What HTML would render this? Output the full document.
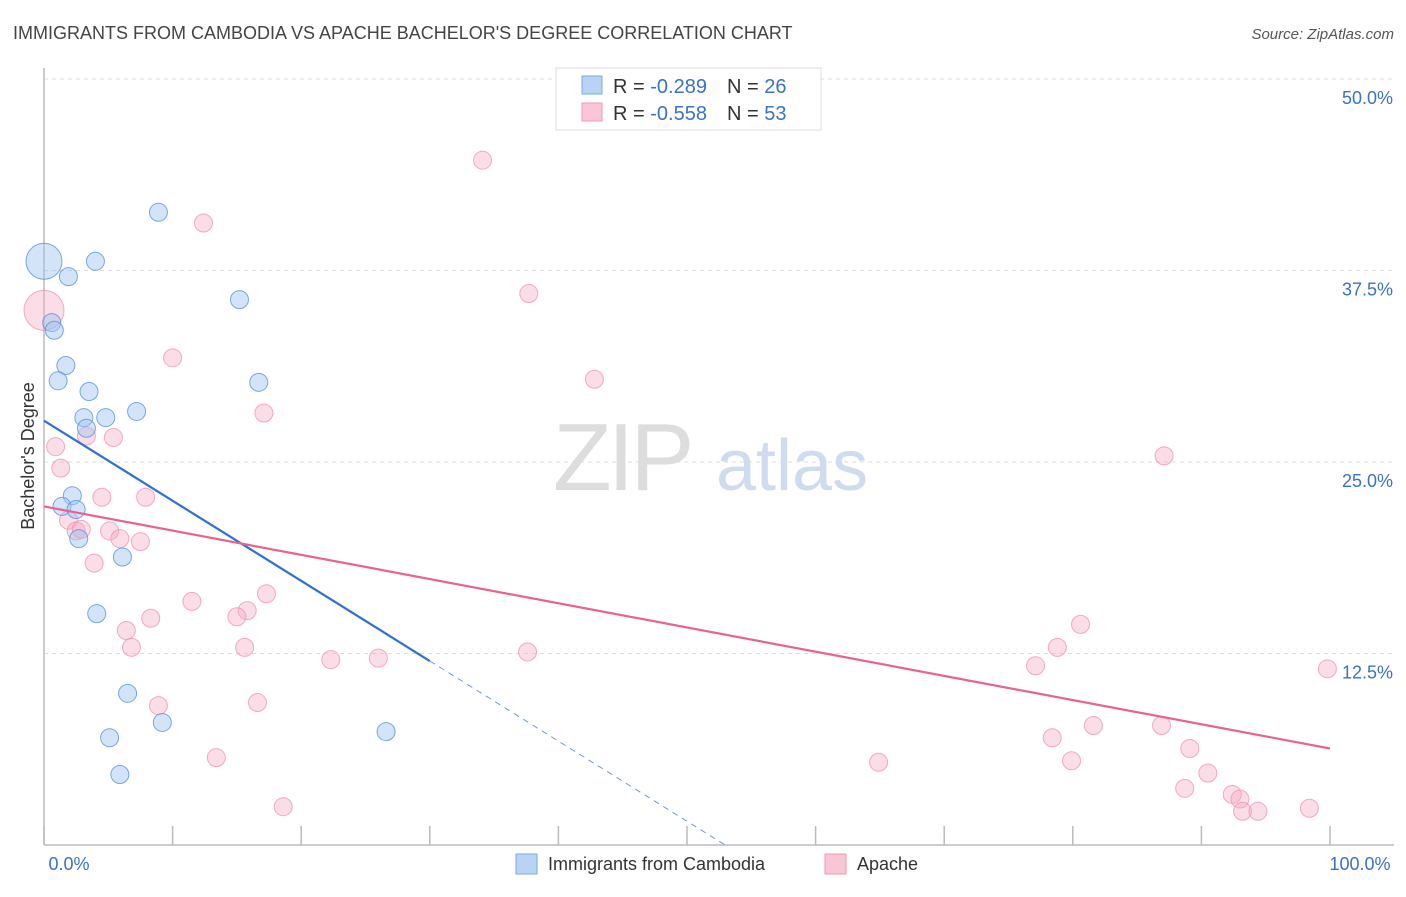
<!DOCTYPE html>
<html><head><meta charset="utf-8"><style>
body{margin:0;background:#fff;font-family:"Liberation Sans",sans-serif;}
svg text{font-family:"Liberation Sans",sans-serif;}
</style></head><body>
<svg width="1406" height="892" viewBox="0 0 1406 892" xmlns="http://www.w3.org/2000/svg">
<text x="13" y="39" font-size="18" fill="#444">IMMIGRANTS FROM CAMBODIA VS APACHE BACHELOR'S DEGREE CORRELATION CHART</text>
<text x="1394" y="39" font-size="15" fill="#555" font-style="italic" text-anchor="end">Source: ZipAtlas.com</text>
<g id="grid"></g>
<g>
<text x="553" y="490" font-size="96" fill="#ddd" font-family="Liberation Serif,serif" letter-spacing="-4">ZIP</text>
<text x="716" y="490" font-size="72" fill="#cfdcf0">atlas</text>
</g>
<line x1="44" y1="68" x2="44" y2="845" stroke="#bbb" stroke-width="1.5"/>
<line x1="44" y1="845" x2="1394" y2="845" stroke="#bbb" stroke-width="1.5"/>
<g id="xticks"></g>
<g id="ylabels"></g>
<text x="69" y="870" font-size="18" fill="#3a72c8" text-anchor="middle">0.0%</text>
<text x="1360" y="870" font-size="18" fill="#3a72c8" text-anchor="middle">100.0%</text>
<text transform="translate(34,456) rotate(-90)" font-size="18" fill="#333" text-anchor="middle">Bachelor's Degree</text>
<g id="pts"></g>
<g id="trends"></g>
<g>
<rect x="556" y="68" width="265" height="62" fill="#fff" stroke="#ddd"/>
<rect x="582" y="76" width="20" height="18" fill="#b9d3f4" stroke="#7ba7e0"/>
<rect x="582" y="103" width="20" height="18" fill="#f9c6d5" stroke="#ee98b3"/>
<text x="613" y="93" font-size="20" fill="#333">R = <tspan fill="#3a72c8">-0.289</tspan><tspan dx="20">N = </tspan><tspan fill="#3a72c8">26</tspan></text>
<text x="613" y="120" font-size="20" fill="#333">R = <tspan fill="#3a72c8">-0.558</tspan><tspan dx="20">N = </tspan><tspan fill="#3a72c8">53</tspan></text>
</g>
<g>
<rect x="516" y="854" width="21" height="20" fill="#b9d3f4" stroke="#7ba7e0"/>
<text x="548" y="870" font-size="18" fill="#333">Immigrants from Cambodia</text>
<rect x="825" y="854" width="21" height="20" fill="#f9c6d5" stroke="#ee98b3"/>
<text x="857" y="870" font-size="18" fill="#333">Apache</text>
</g>
</svg>
<script>
const yTicks=[12.5,25,37.5,50];
const yTickLabels=["12.5%","25.0%","37.5%","50.0%"];
const xTicks=[0,10,20,30,40,50,60,70,80,90,100];
const blueX=[0,4.0,8.9,1.9,15.2,0.6,0.8,1.7,1.1,3.5,16.7,3.1,4.8,7.2,3.3,2.2,1.4,2.5,2.7,6.1,4.1,6.5,9.2,5.1,26.6,5.9];
const blueY=[38.1,38.1,41.3,37.1,35.6,34.1,33.6,31.3,30.3,29.6,30.2,27.9,27.9,28.3,27.2,22.8,22.1,21.9,20.0,18.8,15.1,9.9,8.0,7.0,7.4,4.6];
const blueR=[18,9,9,9,9,9,9,9,9,9,9,9,9,9,9,9,9,9,9,9,9,9,9,9,9,9];
const pinkX=[0,34.1,12.4,37.7,10.0,42.8,17.1,0.9,3.3,5.4,1.3,87.1,4.5,7.9,1.9,2.5,2.9,5.1,5.9,7.5,3.9,11.5,17.3,15.8,15.0,8.3,6.4,6.8,15.6,22.3,26.0,37.6,80.6,78.8,77.1,99.8,8.9,16.6,81.6,86.9,78.4,89.1,13.4,64.9,79.9,90.5,88.7,92.4,93.0,93.2,94.4,98.4,18.6];
const pinkY=[34.9,44.7,40.6,36.0,31.8,30.4,28.2,26.0,26.7,26.6,24.6,25.4,22.7,22.7,21.2,20.5,20.6,20.5,20.0,19.8,18.4,15.9,16.4,15.3,14.9,14.8,14.0,12.9,12.9,12.1,12.2,12.6,14.4,12.9,11.7,11.5,9.1,9.3,7.8,7.8,7.0,6.3,5.7,5.4,5.5,4.7,3.7,3.3,3.0,2.2,2.2,2.4,2.5];
const pinkR=[20];
const blueTrend=[27.7,-0.523]; // intercept, slope
const blueSolidEnd=[30];
const pinkTrend=[22.1,-0.158];
const NS="http://www.w3.org/2000/svg";
const X=v=>44+v*12.86;
const Y=v=>845-v*15.32;
function mk(t,a,p){const e=document.createElementNS(NS,t);for(const k in a)e.setAttribute(k,a[k]);p.appendChild(e);return e;}
const grid=document.getElementById('grid'),yl=document.getElementById('ylabels'),xt=document.getElementById('xticks');
yTicks.forEach((v,i)=>{
 const l=mk('line',{x1:44,x2:1394,y1:Y(v),y2:Y(v),stroke:'#ddd','stroke-dasharray':'4,4'},grid);
 
 
 const t=mk('text',{x:1393,y:Y(v)+25,'font-size':18,fill:'#3a72c8','text-anchor':'end'},yl);
 t.textContent=yTickLabels[i];
 
 
});
xTicks.forEach(v=>{
 const l=mk('line',{x1:X(v),x2:X(v),y1:826,y2:845,stroke:'#bbb','stroke-width':1.5},xt);
 
 
});
const pts=document.getElementById('pts');
pinkX.forEach((v,i)=>{
 const c=mk('circle',{cx:X(v),cy:Y(pinkY[i]),r:pinkR[i]||9,fill:'rgba(246,170,195,0.4)',stroke:'rgba(236,140,172,0.7)','stroke-width':1},pts);
 
 
});
blueX.forEach((v,i)=>{
 const c=mk('circle',{cx:X(v),cy:Y(blueY[i]),r:blueR[i],fill:'rgba(160,195,240,0.45)',stroke:'rgba(80,140,220,0.75)','stroke-width':1},pts);
 
 
});
const tr=document.getElementById('trends');
const bz=-blueTrend[0]/blueTrend[1];
let l1=mk('line',{x1:X(0),y1:Y(blueTrend[0]),x2:X(blueSolidEnd[0]),y2:Y(blueTrend[0]+blueTrend[1]*blueSolidEnd[0]),stroke:'#2f6fd6','stroke-width':2.2},tr);


let l2=mk('line',{x1:X(blueSolidEnd[0]),y1:Y(blueTrend[0]+blueTrend[1]*blueSolidEnd[0]),x2:X(bz),y2:Y(0),stroke:'#6f9ad8','stroke-width':1,'stroke-dasharray':'6,5'},tr);


let l3=mk('line',{x1:X(0),y1:Y(pinkTrend[0]),x2:X(100),y2:Y(pinkTrend[0]+pinkTrend[1]*100),stroke:'#e8638f','stroke-width':2.2},tr);


</script>
</body></html>
